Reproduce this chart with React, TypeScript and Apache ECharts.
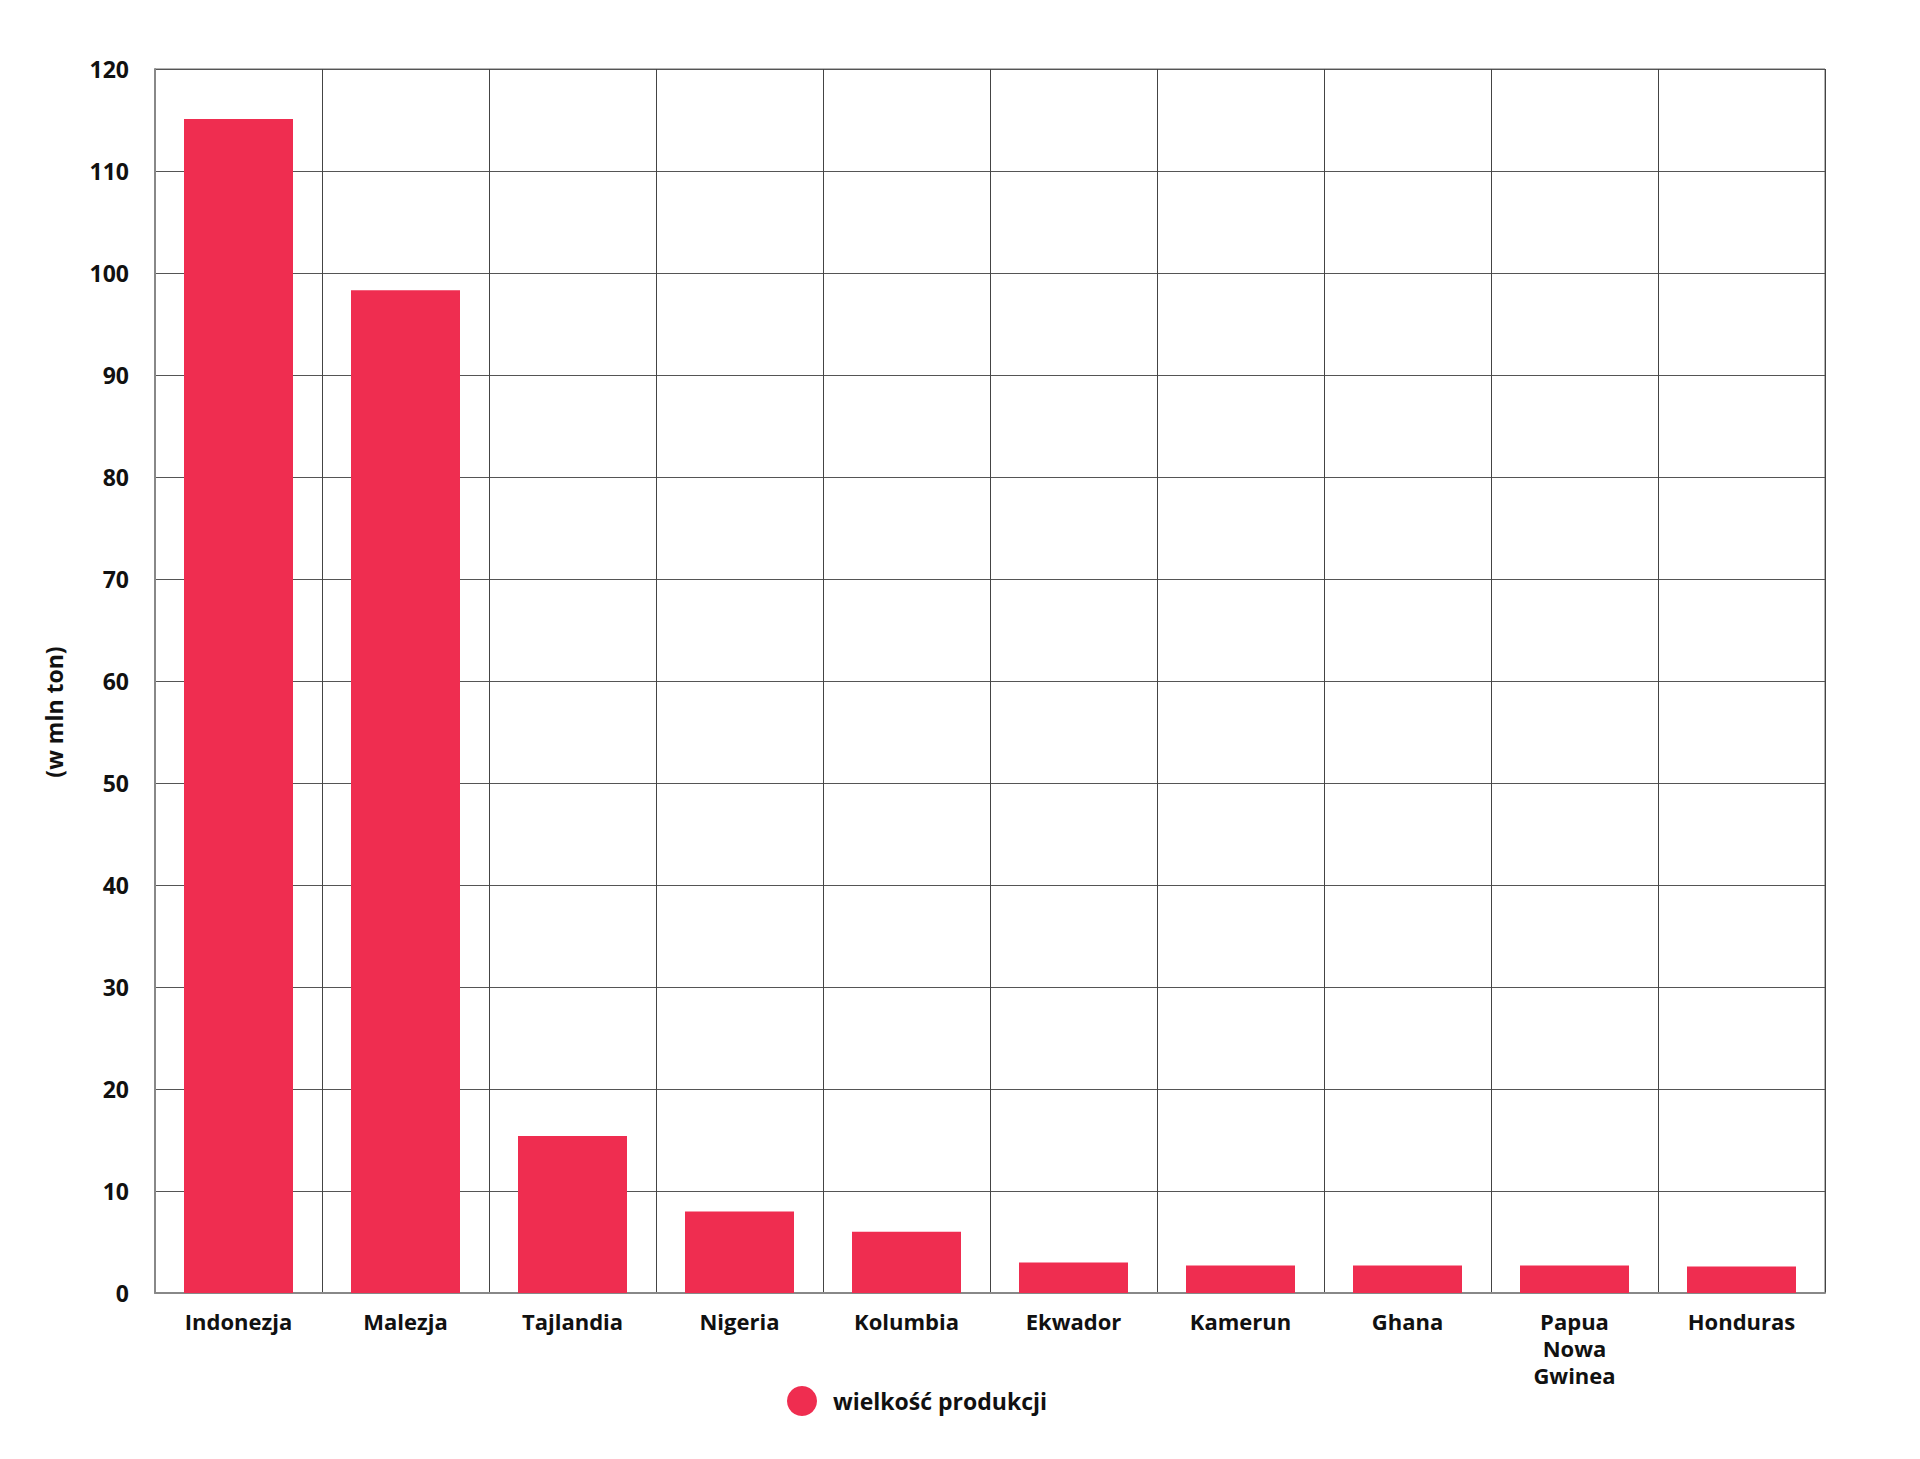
import { useRef, useEffect } from 'react'
import * as echarts from 'echarts'

const countries = [
  'Indonezja',
  'Malezja',
  'Tajlandia',
  'Nigeria',
  'Kolumbia',
  'Ekwador',
  'Kamerun',
  'Ghana',
  'Papua\nNowa\nGwinea',
  'Honduras'
]
const production = [115.1, 98.3, 15.4, 8.0, 6.0, 3.0, 2.7, 2.7, 2.7, 2.6]
const seriesName = 'wielkość produkcji'
const axisTitle = '(w mln ton)'

const FONT = '"Open Sans", "Noto Sans", sans-serif'
const RED = '#ef2d50'

export default function App() {
  const chartRef = useRef<HTMLDivElement>(null)

  useEffect(() => {
    if (!chartRef.current) return
    const chart = echarts.init(chartRef.current, undefined, { renderer: 'svg' })

    chart.setOption({
      animation: false,
      backgroundColor: '#fff',
      textStyle: { fontFamily: FONT },
      grid: { left: 155, top: 69, right: 95, bottom: 166, show: true, borderColor: '#666', borderWidth: 1 },
      legend: {
        left: 782,
        top: 1381,
        icon: 'circle',
        itemWidth: 30,
        itemHeight: 30,
        data: [seriesName],
        textStyle: {
          fontFamily: FONT,
          fontWeight: 'bold',
          fontSize: 23,
          color: '#111',
          padding: [0, 0, 0, 11]
        }
      },
      // rotated axis title, sits a bit below the middle of the plot in the original
      graphic: [
        {
          type: 'text',
          x: 54,
          y: 712,
          rotation: Math.PI / 2,
          style: {
            text: axisTitle,
            fontFamily: FONT,
            fontWeight: 'bold',
            fontSize: 23,
            fill: '#111',
            align: 'center',
            verticalAlign: 'middle'
          }
        }
      ],
      xAxis: {
        type: 'category',
        data: countries,
        boundaryGap: true,
        axisLine: { show: true, lineStyle: { color: '#888', width: 2 } },
        axisTick: { show: false },
        splitLine: { show: true, lineStyle: { color: '#444', width: 1 } },
        axisLabel: {
          interval: 0,
          margin: 14,
          fontFamily: FONT,
          fontWeight: 'bold',
          fontSize: 22,
          color: '#111',
          lineHeight: 27,
          verticalAlign: 'top'
        }
      },
      yAxis: {
        type: 'value',
        min: 0,
        max: 120,
        interval: 10,
        axisLine: { show: true, lineStyle: { color: '#888', width: 2 } },
        axisTick: { show: false },
        splitLine: { show: true, lineStyle: { color: '#555', width: 1 } },
        axisLabel: {
          margin: 26,
          fontFamily: FONT,
          fontWeight: 'bold',
          fontSize: 23,
          color: '#111'
        }
      },
      series: [
        {
          name: seriesName,
          type: 'bar',
          data: production,
          barWidth: 109,
          itemStyle: { color: RED }
        }
      ]
    })

    return () => {
      chart.dispose()
    }
  }, [])

  return (
    <div
      ref={chartRef}
      style={{ position: 'absolute', left: 0, top: 0, width: '1920px', height: '1459px' }}
    />
  )
}
